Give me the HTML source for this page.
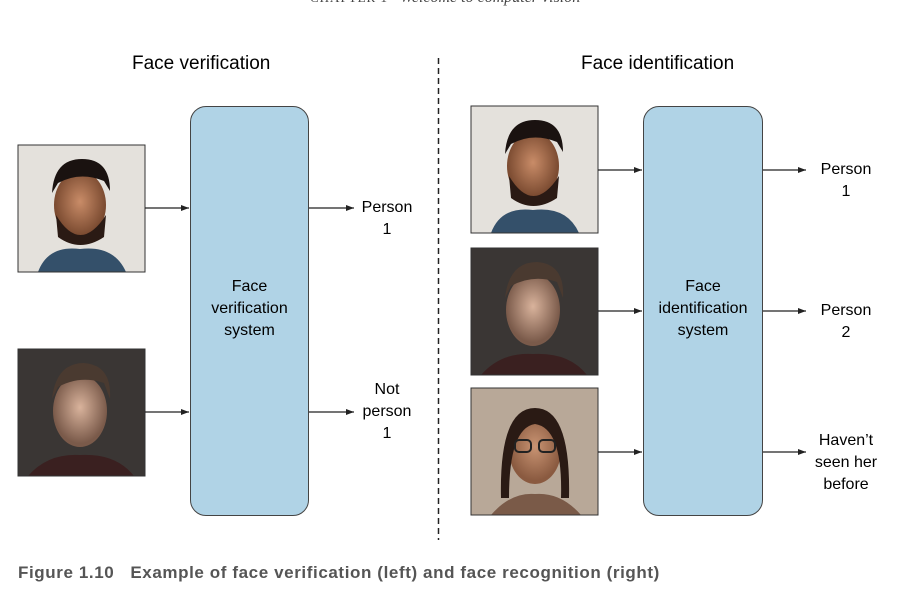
<!DOCTYPE html>
<html><head><meta charset="utf-8"><style>
body{margin:0;width:910px;height:591px;background:#fff;position:relative;overflow:hidden;font-family:"Liberation Sans",sans-serif;}
.t{position:absolute;color:#000;font-size:16px;text-align:center;line-height:22px}
.h{position:absolute;font-size:19px;color:#000}
.box{position:absolute;background:#b0d3e6;border:1.5px solid #444;border-radius:16px;box-sizing:border-box}
</style></head><body>
<div style="position:absolute;left:310px;top:-11px;font-family:'Liberation Serif',serif;font-size:16px;color:#444"><span style="font-size:13px;letter-spacing:1px">CHAPTER 1</span> &nbsp; <i>Welcome to computer vision</i></div>
<div class="h" style="left:132px;top:53px">Face verification</div>
<div class="h" style="left:581px;top:53px">Face identification</div>
<svg width="4" height="591" style="position:absolute;left:437px;top:0"><line x1="1.5" y1="58" x2="1.5" y2="540" stroke="#222" stroke-width="1.5" stroke-dasharray="6,4"/></svg>
<div class="box" style="left:190px;top:106px;width:119px;height:410px"></div>
<div class="box" style="left:643px;top:106px;width:120px;height:410px"></div>
<div class="t" style="left:190px;top:276px;width:119px">Face<br>verification<br>system</div>
<div class="t" style="left:643px;top:276px;width:120px">Face<br>identification<br>system</div>

<svg width="910" height="591" style="position:absolute;left:0;top:0">
<defs>
<marker id="a" markerWidth="8" markerHeight="6" refX="8" refY="3" orient="auto" markerUnits="userSpaceOnUse"><path d="M0,0L8,3L0,6z" fill="#222"/></marker>
<radialGradient id="f1" cx="50%" cy="45%" r="50%"><stop offset="0" stop-color="#c98c68"/><stop offset="1" stop-color="#7a4a30"/></radialGradient>
<radialGradient id="f2" cx="50%" cy="45%" r="50%"><stop offset="0" stop-color="#d9b39c"/><stop offset="1" stop-color="#7a5a4a"/></radialGradient>
<radialGradient id="f3" cx="50%" cy="45%" r="50%"><stop offset="0" stop-color="#c99473"/><stop offset="1" stop-color="#8a5a40"/></radialGradient>
<g id="p1"><rect width="127" height="127" fill="#e4e1dc"/><ellipse cx="62" cy="60" rx="26" ry="34" fill="url(#f1)"/><path d="M34,48Q36,14 64,14Q92,14 92,46L86,36Q62,26 40,38z" fill="#1a1210"/><path d="M38,70Q62,110 88,70L86,92Q62,108 40,92z" fill="#2a1a14"/><path d="M20,127Q30,100 62,104Q96,100 108,127z" fill="#34506a"/></g>
<g id="p2"><rect width="127" height="127" fill="#3a3634"/><ellipse cx="62" cy="62" rx="27" ry="36" fill="url(#f2)"/><path d="M34,50Q38,14 66,14Q94,16 92,50L86,34Q62,26 40,38z" fill="#4a3a30"/><path d="M10,127Q30,104 62,106Q98,104 116,127z" fill="#3a2020"/></g>
<g id="p3"><rect width="127" height="127" fill="#b8a898"/><ellipse cx="64" cy="62" rx="26" ry="34" fill="url(#f3)"/><path d="M30,110Q28,20 64,20Q100,20 98,110L90,110Q92,40 64,36Q38,40 38,110z" fill="#2a1a14"/><rect x="44" y="52" width="16" height="12" rx="4" fill="none" stroke="#222" stroke-width="2"/><rect x="68" y="52" width="16" height="12" rx="4" fill="none" stroke="#222" stroke-width="2"/><path d="M20,127Q40,104 64,106Q90,104 110,127z" fill="#7a5a48"/></g>
</defs>
<use href="#p1" x="18" y="145"/><rect x="18" y="145" width="127" height="127" fill="none" stroke="#333"/>
<use href="#p2" x="18" y="349"/><rect x="18" y="349" width="127" height="127" fill="none" stroke="#333"/>
<use href="#p1" x="471" y="106"/><rect x="471" y="106" width="127" height="127" fill="none" stroke="#333"/>
<use href="#p2" x="471" y="248"/><rect x="471" y="248" width="127" height="127" fill="none" stroke="#333"/>
<use href="#p3" x="471" y="388"/><rect x="471" y="388" width="127" height="127" fill="none" stroke="#333"/>
<g stroke="#222" stroke-width="1.2" marker-end="url(#a)">
<line x1="145" y1="208" x2="189" y2="208"/><line x1="145" y1="412" x2="189" y2="412"/>
<line x1="309" y1="208" x2="354" y2="208"/><line x1="309" y1="412" x2="354" y2="412"/>
<line x1="598" y1="170" x2="642" y2="170"/><line x1="598" y1="311" x2="642" y2="311"/><line x1="598" y1="452" x2="642" y2="452"/>
<line x1="763" y1="170" x2="806" y2="170"/><line x1="763" y1="311" x2="806" y2="311"/><line x1="763" y1="452" x2="806" y2="452"/>
</g>
</svg>
<div class="t" style="left:352px;top:197px;width:70px">Person<br>1</div>
<div class="t" style="left:352px;top:379px;width:70px">Not<br>person<br>1</div>
<div class="t" style="left:806px;top:159px;width:80px">Person<br>1</div>
<div class="t" style="left:806px;top:300px;width:80px">Person<br>2</div>
<div class="t" style="left:806px;top:430px;width:80px">Haven’t<br>seen her<br>before</div>
<div style="position:absolute;left:18px;top:563px;font-size:17px;font-weight:bold;color:#555;white-space:nowrap;letter-spacing:0.6px">Figure 1.10 &nbsp;&nbsp;Example of face verification (left) and face recognition (right)</div>
</body></html>
